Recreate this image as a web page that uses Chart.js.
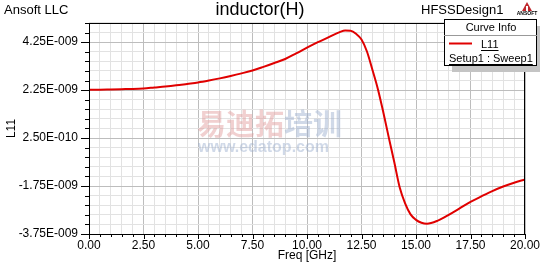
<!DOCTYPE html>
<html>
<head>
<meta charset="utf-8">
<script src="https://cdn.jsdelivr.net/npm/chart.js@4.4.0/dist/chart.umd.min.js"></script>
<style>
  html, body { margin: 0; padding: 0; background: #fff; }
  #wrap { width: 546px; height: 264px; position: relative; }
</style>
</head>
<body>
<div id="wrap"><canvas id="plot" width="546" height="264"></canvas></div>
<script>
// L11 inductance (H) vs frequency (GHz)
const freqGHz = [0, 0.5, 1, 1.5, 2, 2.5, 3, 3.5, 4, 4.5, 5, 5.5, 6, 6.5, 7, 7.5, 8, 8.5, 9, 9.5,
  10, 10.5, 11, 11.5, 11.75, 12, 12.25, 12.5, 12.75, 13, 13.25, 13.5, 13.75, 14, 14.25, 14.5, 14.75,
  15, 15.25, 15.5, 16, 16.5, 17, 17.5, 18, 18.5, 19, 19.5, 20]
const l11 = [2.27e-9, 2.27e-9, 2.28e-9, 2.29e-9, 2.30e-9, 2.32e-9, 2.36e-9, 2.40e-9, 2.45e-9, 2.51e-9,
  2.57e-9, 2.65e-9, 2.74e-9, 2.84e-9, 2.95e-9, 3.07e-9, 3.22e-9, 3.38e-9, 3.55e-9, 3.78e-9,
  4.02e-9, 4.25e-9, 4.46e-9, 4.67e-9, 4.74e-9, 4.73e-9, 4.60e-9, 4.36e-9, 3.86e-9, 3.10e-9,
  2.30e-9, 1.33e-9, 0.28e-9, -0.74e-9, -1.80e-9, -2.47e-9, -2.93e-9, -3.16e-9, -3.28e-9, -3.32e-9,
  -3.19e-9, -2.95e-9, -2.68e-9, -2.41e-9, -2.18e-9, -1.96e-9, -1.77e-9, -1.61e-9, -1.47e-9]

const xMajorTicks = [0, 2.5, 5, 7.5, 10, 12.5, 15, 17.5, 20]
const yMajorTicks = [-3.75e-9, -1.75e-9, 2.5e-10, 2.25e-9, 4.25e-9]
const yMin = -3.75e-9
const yMax = 5.05e-9
const yMinorStep = 0.4e-9
const xMinorStep = 0.5

const seriesName = "L11"
const curveColor = "#e00000"
const fontFam = "'Liberation Sans', Arial, sans-serif"

function isMajor(v, list) {
  return list.some(m => Math.abs(m - v) < Math.abs(v) * 1e-6 + 1e-15)
}

function hfssExp(v) {
  // 4.25e-9 -> 4.25E-009
  let s = v.toExponential(2)
  let parts = s.split("e")
  let exp = parseInt(parts[1], 10)
  let digits = String(Math.abs(exp)).padStart(3, "0")
  return parts[0] + "E" + (exp < 0 ? "-" : "") + digits
}

const decorPlugin = {
  id: "decor",
  beforeDatasetsDraw(chart) {
    const ctx = chart.ctx
    ctx.save()
    // watermark
    ctx.textAlign = "left"
    ctx.textBaseline = "middle"
    ctx.font = "bold 29px 'Noto Sans CJK SC', sans-serif"
    ctx.fillStyle = "rgba(225,150,150,0.45)"
    ctx.fillText("易迪拓", 197, 124)
    let w = ctx.measureText("易迪拓").width
    ctx.fillStyle = "rgba(150,170,205,0.45)"
    ctx.fillText("培训", 197 + w, 124)
    ctx.font = "bold 16px " + fontFam
    ctx.fillText("www.edatop.com", 198, 148)
    ctx.restore()
  },
  afterDraw(chart) {
    const ctx = chart.ctx
    const a = chart.chartArea
    const xs = chart.scales.x
    const ys = chart.scales.y
    ctx.save()

    // frame
    ctx.strokeStyle = "#000"
    ctx.lineWidth = 1
    ctx.strokeRect(a.left + 0.5, a.top + 0.5, a.right - a.left - 1, a.bottom - a.top)

    // tick marks
    ctx.beginPath()
    ys.ticks.forEach(t => {
      let y = Math.round(ys.getPixelForValue(t.value)) + 0.5
      let len = isMajor(t.value, yMajorTicks) ? 8 : 4
      ctx.moveTo(a.left - len, y)
      ctx.lineTo(a.left, y)
    })
    xs.ticks.forEach(t => {
      let x = Math.round(xs.getPixelForValue(t.value)) + 0.5
      let len = isMajor(t.value, xMajorTicks) ? 5 : 3
      ctx.moveTo(x, a.bottom)
      ctx.lineTo(x, a.bottom + len)
    })
    ctx.stroke()

    // header texts
    ctx.fillStyle = "#000"
    ctx.textBaseline = "middle"
    ctx.textAlign = "left"
    ctx.font = "13px " + fontFam
    ctx.fillText("Ansoft LLC", 4, 10)
    ctx.fillText("HFSSDesign1", 421, 10)
    ctx.textAlign = "center"
    ctx.font = "18px " + fontFam
    ctx.fillText("inductor(H)", 260, 10)

    // small logo
    ctx.fillStyle = "#c0282d"
    ctx.beginPath()
    ctx.moveTo(527, 2)
    ctx.lineTo(532, 11)
    ctx.lineTo(522, 11)
    ctx.closePath()
    ctx.fill()
    ctx.fillStyle = "#fff"
    ctx.fillRect(526, 6, 2, 5)
    ctx.fillStyle = "#000"
    ctx.font = "bold 5px " + fontFam
    ctx.fillText("ANSOFT", 527, 14)

    // axis titles
    ctx.font = "12px " + fontFam
    ctx.fillText("Freq [GHz]", (a.left + a.right) / 2, 256)
    ctx.save()
    ctx.translate(12, (a.top + a.bottom) / 2)
    ctx.rotate(-Math.PI / 2)
    ctx.fillText(seriesName, 0, 0)
    ctx.restore()

    // legend box with shadow
    ctx.fillStyle = "#c4c4c4"
    ctx.fillRect(452, 26, 88, 46)
    ctx.fillStyle = "#fff"
    ctx.fillRect(444, 19, 93, 46)
    ctx.strokeStyle = "#000"
    ctx.strokeRect(444.5, 19.5, 92, 46)
    ctx.beginPath()
    ctx.moveTo(444, 35.5)
    ctx.lineTo(537, 35.5)
    ctx.strokeStyle = "#999"
    ctx.stroke()
    ctx.fillStyle = "#000"
    ctx.font = "11px " + fontFam
    ctx.textAlign = "center"
    ctx.fillText("Curve Info", 491, 28)
    ctx.strokeStyle = curveColor
    ctx.lineWidth = 2
    ctx.beginPath()
    ctx.moveTo(449, 43.5)
    ctx.lineTo(472, 43.5)
    ctx.stroke()
    ctx.textAlign = "left"
    ctx.fillText(seriesName, 481, 45)
    let lw = ctx.measureText(seriesName).width
    ctx.fillRect(481, 50, lw, 1)
    ctx.fillText("Setup1 : Sweep1", 449, 59)
    let sw = ctx.measureText("Setup1 : Sweep1").width
    ctx.fillRect(449, 64, sw, 1)

    ctx.restore()
  }
}

const points = freqGHz.map((f, i) => ({ x: f, y: l11[i] }))

new Chart(document.getElementById("plot"), {
  type: "line",
  data: {
    datasets: [{
      label: seriesName,
      data: points,
      borderColor: curveColor,
      borderWidth: 2,
      pointRadius: 0,
      cubicInterpolationMode: "monotone",
      fill: false
    }]
  },
  options: {
    responsive: false,
    animation: false,
    events: [],
    layout: { padding: { top: 23, right: 21, left: 0, bottom: 0 } },
    plugins: { legend: { display: false }, tooltip: { enabled: false } },
    scales: {
      x: {
        type: "linear",
        min: 0,
        max: 20,
        afterBuildTicks(scale) {
          let t = []
          for (let i = 0; i <= 40; i++) t.push({ value: i * xMinorStep })
          scale.ticks = t
        },
        afterFit(scale) { scale.height = 30 },
        border: { display: false },
        grid: {
          drawTicks: false,
          color: c => isMajor(c.tick.value, xMajorTicks) ? "#bdbdbd" : "#e2e2e2"
        },
        ticks: {
          autoSkip: false,
          maxRotation: 0,
          padding: 4,
          color: "#000",
          font: { family: fontFam, size: 12 },
          callback: v => isMajor(v, xMajorTicks) ? v.toFixed(2) : ""
        }
      },
      y: {
        type: "linear",
        min: yMin,
        max: yMax,
        afterBuildTicks(scale) {
          let t = []
          for (let i = 0; i <= 22; i++) t.push({ value: yMin + i * yMinorStep })
          scale.ticks = t
        },
        afterFit(scale) { scale.width = 89 },
        border: { display: false },
        grid: {
          drawTicks: false,
          color: c => isMajor(c.tick.value, yMajorTicks) ? "#bdbdbd" : "#e2e2e2"
        },
        ticks: {
          autoSkip: false,
          padding: 11,
          color: "#000",
          font: { family: fontFam, size: 12 },
          callback: v => isMajor(v, yMajorTicks) ? hfssExp(v) : ""
        }
      }
    }
  },
  plugins: [decorPlugin]
})
</script>
</body>
</html>
